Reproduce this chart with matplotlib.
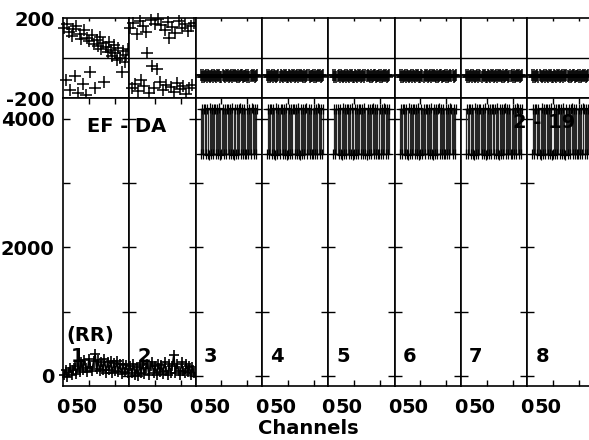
import matplotlib
matplotlib.use("Agg")
import matplotlib.pyplot as plt
import matplotlib.transforms as mtransforms
import numpy as np

plt.rcParams['font.family'] = ['DejaVu Sans']
plt.rcParams['font.weight'] = 'bold'
plt.rcParams['font.size'] = 14
plt.rcParams['axes.unicode_minus'] = False

# channel grids (IF 1-2 span the whole band, IF 3-8 have edge channels dropped)
chan_if12 = np.arange(2, 128, 3)
chan_if3_8 = np.arange(10, 120, 2)

# IF 1 and 2: weak, noisy signal
amp_if1 = [20, 90, -20, 60, 120, 10, 100, 150, 30, 190,
           60, 220, 90, 250, 120, 60, 260, 140, 80, 230,
           340, 110, 250, 70, 220, 100, 260, 50, 210, 90,
           230, 40, 200, 80, 240, 60, 190, 30, 180, 60,
           170, 50]
amp_if2 = [150, 40, 190, 20, 140, 0, 170, 50, 200, 30,
           130, 180, 10, 160, 210, 40, 150, 20, 190, 60,
           170, 30, 220, 70, 20, 180, 50, 160, 330, 40,
           190, 70, 20, 210, 80, 40, 180, 60, 160, 20,
           140, 40]
phase_if1 = [150, -110, 170, 130, -160, 110, 145, -90, 160, -175,
             120, 95, -130, 140, -185, 100, 85, -70, 115, 70,
             -150, 90, 60, 105, 45, 75, -120, 55, 30, 80,
             40, 10, 65, 25, -10, 50, 0, -68, 35, -20,
             15, 45]
phase_if2 = [150, -150, 175, -130, 120, -165, 185, -110, 160, -140,
             130, 26, -175, 190, -40, -150, 170, -55, 195, -120,
             165, -160, 140, -135, 180, 100, -145, 155, -170, 125,
             -125, 185, -155, 150, -140, 170, -180, 135, -150, 160,
             -135, 175]

# IF 3-8 look identical: amplitude jumps between ~3450 and ~4160, flat phase
amp_if3_8 = [3450, 4160, 3450, 4160, 4150, 3450, 4160, 3460, 3440, 4170,
             3450, 4150, 3450, 4160, 4160, 3450, 4150, 3450, 4170, 3440,
             3450, 4160, 3450, 4160, 3460, 4150, 4160, 3450, 4160, 3450,
             4170, 3450, 3440, 4160, 3450, 4150, 3450, 4160, 4170, 3450,
             4160, 3450, 4160, 3460, 3450, 4150, 3450, 4160, 3450, 4170,
             4160, 3450, 4160, 3450, 4160]
phase_if3_8 = [-84, -92, -83, -94, -88, -82, -93, -86, -90, -95,
               -88, -84, -92, -83, -90, -94, -86, -88, -82, -92,
               -93, -84, -88, -95, -86, -90, -83, -92, -88, -84,
               -94, -86, -90, -82, -88, -93, -84, -92, -88, -86,
               -83, -94, -88, -90, -84, -92, -86, -93, -88, -83,
               -90, -86, -92, -88, -84]

if_labels = ['1', '2', '3', '4', '5', '6', '7', '8']
amp_ticks = [0, 1000, 2000, 3000, 4000]
amp_ticklabels = ['0', '', '2000', '', '4000']
phase_ticks = [-200, 200]
chan_ticks = [50, 100]

W, H = 589, 440
fig = plt.figure(figsize=(W / 100, H / 100), dpi=100)

left = 63
pw = 66.3
ph_top, ph_bot, amp_bot = 18.3, 98.3, 386


def rect(x0, y0, x1, y1):
    return [x0 / W, 1 - y1 / H, (x1 - x0) / W, (y1 - y0) / H]


for i in range(8):
    if i == 0:
        ch, amp, ph = chan_if12, amp_if1, phase_if1
    elif i == 1:
        ch, amp, ph = chan_if12, amp_if2, phase_if2
    else:
        ch, amp, ph = chan_if3_8, amp_if3_8, phase_if3_8
    x0 = left + i * pw

    # phase panel
    axp = fig.add_axes(rect(x0, ph_top, x0 + pw, ph_bot))
    axp.plot(ch, ph, '+', color='black', ms=8, mew=1.1, clip_on=False)
    axp.axhline(0, color='black', lw=1)
    axp.set_xlim(0, 128)
    axp.set_ylim(-200, 200)
    axp.set_xticks(chan_ticks)
    axp.set_xticklabels([])
    axp.tick_params(axis='x', direction='in', top=True, bottom=False, length=2.5, width=1)
    axp.set_yticks(phase_ticks)
    if i == 0:
        axp.tick_params(axis='y', length=0, pad=6)
    else:
        axp.tick_params(axis='y', length=0, labelleft=False)

    # amplitude panel
    axa = fig.add_axes(rect(x0, ph_bot, x0 + pw, amp_bot))
    if i < 2:
        axa.plot(ch, amp, '-', color='black', lw=1.2)
        axa.plot(ch, amp, '+', color='black', ms=7.5, mew=1.2, clip_on=False)
    else:
        axa.plot(ch, amp, '-', color='#262626', lw=0.9, drawstyle='steps-mid')
        axa.plot(ch, amp, '+', color='black', ms=7.5, mew=0.9, clip_on=False)
    axa.set_xlim(0, 128)
    axa.set_ylim(-156, 4322)
    axa.set_xticks(chan_ticks)
    axa.set_xticklabels([])
    axa.tick_params(axis='x', direction='in', top=True, bottom=True, length=4, width=1)
    axa.set_yticks(amp_ticks)
    if i == 0:
        axa.set_yticklabels(amp_ticklabels)
        axa.tick_params(axis='y', direction='in', length=5, width=1, pad=6)
    else:
        axa.set_yticklabels([])
        axa.tick_params(axis='y', direction='inout', length=10, width=1)

    # channel labels under each IF ("0" and "50" run together as in the original)
    tr = axa.get_xaxis_transform()
    axa.text(0, -0.04, '0', transform=tr, ha='center', va='top')
    axa.text(50, -0.04, '50', ha='center', va='top',
             transform=mtransforms.offset_copy(tr, fig=fig, x=-5, y=0, units='dots'))

    axa.text(0.226, 296, if_labels[i], transform=axa.get_yaxis_transform(),
             ha='center', va='center')

    for a in (axp, axa):
        for s in a.spines.values():
            s.set_linewidth(1.2)

fig.text(127 / W, 1 - 126 / H, 'EF - DA', ha='center', va='center', zorder=10)
fig.text(544 / W, 1 - 122 / H, '2 - 19', ha='center', va='center', zorder=10)
fig.text(90 / W, 1 - 335 / H, '(RR)', ha='center', va='center')
fig.text(308 / W, 1 - 428 / H, 'Channels', ha='center', va='center')

fig.savefig('out.png', dpi=100)
